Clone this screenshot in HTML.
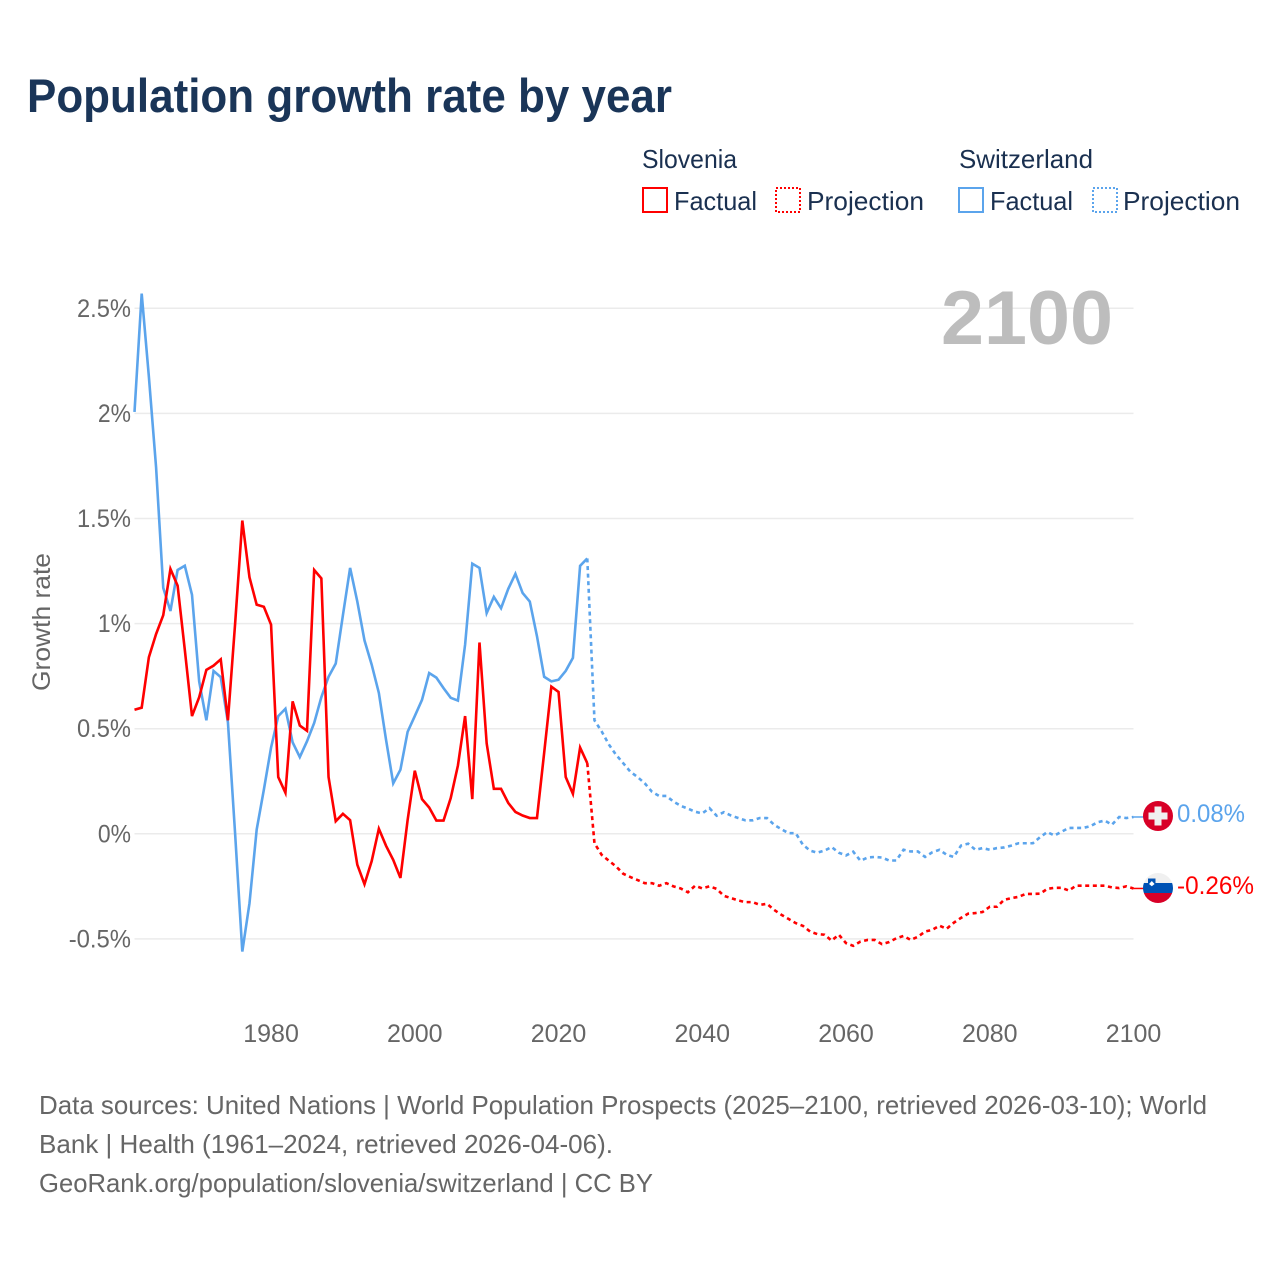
<!DOCTYPE html>
<html lang="en">
<head>
<meta charset="utf-8">
<title>Population growth rate by year</title>
<style>
html,body{margin:0;padding:0;background:#fff;width:1280px;height:1280px;overflow:hidden}
svg{display:block}
text{font-family:"Liberation Sans",sans-serif}
.leg{font-size:26px;fill:#1a3050}
.tick{font-size:25px;fill:#666}
.foot{font-size:26px;fill:#666}
</style>
</head>
<body>
<svg id="chart" width="1280" height="1280" viewBox="0 0 1280 1280" xmlns="http://www.w3.org/2000/svg">
  <text x="27" y="112" font-size="47" font-weight="700" fill="#1a3558" textLength="645" lengthAdjust="spacingAndGlyphs">Population growth rate by year</text>

  <g>
    <text class="leg" x="642" y="168" textLength="95" lengthAdjust="spacingAndGlyphs">Slovenia</text>
    <rect x="643" y="188" width="24" height="24" fill="none" stroke="#ff0000" stroke-width="2"/>
    <text class="leg" x="674" y="210" textLength="83" lengthAdjust="spacingAndGlyphs">Factual</text>
    <rect x="776" y="188" width="24" height="24" fill="none" stroke="#ff0000" stroke-width="2" stroke-dasharray="2 2"/>
    <text class="leg" x="807" y="210" textLength="117" lengthAdjust="spacingAndGlyphs">Projection</text>

    <text class="leg" x="959" y="168" textLength="134" lengthAdjust="spacingAndGlyphs">Switzerland</text>
    <rect x="959" y="188" width="24" height="24" fill="none" stroke="#5ba4ec" stroke-width="2"/>
    <text class="leg" x="990" y="210" textLength="83" lengthAdjust="spacingAndGlyphs">Factual</text>
    <rect x="1093" y="188" width="24" height="24" fill="none" stroke="#5ba4ec" stroke-width="2" stroke-dasharray="2 2"/>
    <text class="leg" x="1123" y="210" textLength="117" lengthAdjust="spacingAndGlyphs">Projection</text>
  </g>

  <g id="grid"></g>
  <g id="ytick-labels"></g>
  <g id="xtick-labels"></g>

  <text x="1113" y="344" font-size="76" font-weight="700" fill="#bdbdbd" text-anchor="end" textLength="172" lengthAdjust="spacingAndGlyphs">2100</text>
  <text transform="translate(50,622) rotate(-90)" font-size="25" fill="#666" text-anchor="middle" textLength="138" lengthAdjust="spacingAndGlyphs">Growth rate</text>

  <g id="series"></g>

  <g transform="translate(1158,816)">
    <circle r="15" fill="#d80027"/>
    <rect x="-9.5" y="-3.5" width="19" height="7" fill="#f0f0f0"/>
    <rect x="-3.5" y="-9.5" width="7" height="19" fill="#f0f0f0"/>
  </g>
  <g transform="translate(1158,888)">
    <clipPath id="slo-clip"><circle r="15"/></clipPath>
    <g clip-path="url(#slo-clip)">
      <rect x="-15" y="-15" width="30" height="10" fill="#f0f0f0"/>
      <rect x="-15" y="-5" width="30" height="10" fill="#0052b4"/>
      <rect x="-15" y="5" width="30" height="10" fill="#d80027"/>
    </g>
    <path d="M-10-9.5h7.5v6.5l-3.7 3-3.8-3z" fill="#0052b4"/>
    <path d="M-9-4l2.8-3 2.8 3-2.8 2.2z" fill="#fff"/>
  </g>
  <text id="label-swiss" x="1177" y="822" font-size="25" fill="#5ba4ec" textLength="68" lengthAdjust="spacingAndGlyphs">0.08%</text>
  <text id="label-slo" x="1177" y="894" font-size="25" fill="#ff0000" textLength="77" lengthAdjust="spacingAndGlyphs">-0.26%</text>

  <g>
    <text class="foot" x="39" y="1114" textLength="1168" lengthAdjust="spacingAndGlyphs">Data sources: United Nations | World Population Prospects (2025–2100, retrieved 2026-03-10); World</text>
    <text class="foot" x="39" y="1153" textLength="574" lengthAdjust="spacingAndGlyphs">Bank | Health (1961–2024, retrieved 2026-04-06).</text>
    <text class="foot" x="39" y="1192" textLength="614" lengthAdjust="spacingAndGlyphs">GeoRank.org/population/slovenia/switzerland | CC BY</text>
  </g>
</svg>

<script>
const factualStartYear = 1961;
const projectionStartYear = 2024;
const yTicks = [2.5, 2, 1.5, 1, 0.5, 0, -0.5];
const yTickLabels = ["2.5%", "2%", "1.5%", "1%", "0.5%", "0%", "-0.5%"];
const xTicks = [1980, 2000, 2020, 2040, 2060, 2080, 2100];

const sloveniaFactual = [
  0.59,0.60,0.84,0.95,1.04,1.26,1.18,0.875,0.56,0.65,
  0.78,0.80,0.83,0.54,1.00,1.49,1.22,1.09,1.08,0.995,
  0.27,0.195,0.63,0.515,0.49,1.255,1.215,0.27,0.06,0.095,
  0.065,-0.147,-0.24,-0.13,0.024,-0.057,-0.124,-0.21,0.065,0.30,
  0.165,0.125,0.063,0.063,0.17,0.325,0.56,0.165,0.91,0.43,
  0.214,0.214,0.147,0.104,0.087,0.075,0.075,0.385,0.70,0.675,
  0.27,0.19,0.41,0.336
];
const switzerlandFactual = [
  2.007,2.57,2.175,1.745,1.17,1.06,1.255,1.275,1.137,0.725,
  0.54,0.775,0.745,0.53,0.0,-0.56,-0.33,0.02,0.21,0.41,
  0.56,0.595,0.435,0.365,0.44,0.527,0.65,0.747,0.81,1.04,
  1.265,1.105,0.92,0.805,0.67,0.447,0.24,0.305,0.485,0.56,
  0.637,0.765,0.743,0.693,0.647,0.634,0.90,1.285,1.265,1.05,
  1.127,1.073,1.165,1.237,1.146,1.105,0.94,0.747,0.725,0.733,
  0.775,0.837,1.275,1.31
];
const sloveniaProjection = [
  0.336,-0.045,-0.10,-0.128,-0.155,-0.19,-0.206,-0.22,-0.235,-0.235,
  -0.247,-0.235,-0.25,-0.26,-0.278,-0.247,-0.26,-0.25,-0.262,-0.295,
  -0.306,-0.317,-0.325,-0.325,-0.338,-0.333,-0.362,-0.385,-0.405,-0.425,
  -0.438,-0.465,-0.477,-0.48,-0.508,-0.48,-0.52,-0.533,-0.513,-0.505,
  -0.505,-0.525,-0.515,-0.497,-0.486,-0.505,-0.49,-0.465,-0.457,-0.437,
  -0.452,-0.423,-0.40,-0.38,-0.377,-0.372,-0.347,-0.347,-0.314,-0.306,
  -0.30,-0.286,-0.286,-0.285,-0.262,-0.257,-0.257,-0.27,-0.247,-0.247,
  -0.247,-0.247,-0.247,-0.255,-0.258,-0.25,-0.26
];
const switzerlandProjection = [
  1.31,0.54,0.487,0.425,0.376,0.336,0.295,0.27,0.24,0.20,
  0.18,0.18,0.153,0.133,0.12,0.105,0.097,0.122,0.086,0.103,
  0.087,0.075,0.064,0.064,0.075,0.075,0.043,0.022,0.003,0.003,
  -0.052,-0.08,-0.09,-0.08,-0.063,-0.09,-0.103,-0.085,-0.128,-0.113,
  -0.11,-0.113,-0.127,-0.127,-0.076,-0.084,-0.084,-0.11,-0.088,-0.076,
  -0.10,-0.11,-0.056,-0.047,-0.076,-0.068,-0.076,-0.068,-0.065,-0.056,
  -0.045,-0.045,-0.045,-0.016,0.008,-0.008,0.01,0.028,0.028,0.028,
  0.036,0.055,0.063,0.043,0.08,0.075,0.08
];

const NS = "http://www.w3.org/2000/svg";
const xScale = year => 134.5 + (year - 1961) * (1133.5 - 134.5) / (2100 - 1961);
const yScale = value => 833.8 - value * 210.2;

function pointsFor(values, startYear) {
  return values.map((v, i) => xScale(startYear + i).toFixed(2) + "," + yScale(v).toFixed(2)).join(" ");
}

const gridGroup = document.getElementById("grid");
const yLabelGroup = document.getElementById("ytick-labels");
yTicks.forEach((tick, i) => {
  const line = document.createElementNS(NS, "line");
  
  
  line.setAttribute("x1", xScale(1961));
  line.setAttribute("x2", xScale(2100));
  line.setAttribute("y1", yScale(tick));
  line.setAttribute("y2", yScale(tick));
  line.setAttribute("stroke", "#ebebeb");
  line.setAttribute("stroke-width", "1.5");
  gridGroup.appendChild(line);

  const label = document.createElementNS(NS, "text");
  
  
  label.setAttribute("class", "tick");
  label.setAttribute("x", 131);
  label.setAttribute("y", yScale(tick) + 8.5);
  label.setAttribute("text-anchor", "end");
  label.textContent = yTickLabels[i];
  yLabelGroup.appendChild(label);
  label.setAttribute("textLength", (label.getComputedTextLength() - 3).toFixed(1));
  label.setAttribute("lengthAdjust", "spacingAndGlyphs");
});

const xLabelGroup = document.getElementById("xtick-labels");
xTicks.forEach(tick => {
  const label = document.createElementNS(NS, "text");
  
  
  label.setAttribute("class", "tick");
  label.setAttribute("x", xScale(tick));
  label.setAttribute("y", 1042);
  label.setAttribute("text-anchor", "middle");
  label.textContent = tick;
  xLabelGroup.appendChild(label);
});

const seriesGroup = document.getElementById("series");

function drawLine(values, startYear, colour, dashed) {
  const line = document.createElementNS(NS, "polyline");
  line.setAttribute("points", pointsFor(values, startYear));
  line.setAttribute("fill", "none");
  line.setAttribute("stroke", colour);
  line.setAttribute("stroke-width", "2.6");
  line.setAttribute("stroke-linejoin", "miter");
  if (dashed) line.setAttribute("stroke-dasharray", "4 3.6");
  seriesGroup.appendChild(line);
  return line;
}

function drawConnector(values, colour, flagX) {
  const line = document.createElementNS(NS, "line");
  const last = values[values.length - 1];
  line.setAttribute("x1", xScale(2100));
  line.setAttribute("x2", flagX);
  line.setAttribute("y1", yScale(last));
  line.setAttribute("y2", yScale(last));
  line.setAttribute("stroke", colour);
  line.setAttribute("stroke-width", "1.5");
  seriesGroup.appendChild(line);
  return line;
}

const swissProjectionLine = drawLine(switzerlandProjection, projectionStartYear, "#5ba4ec", true);



const swissFactualLine = drawLine(switzerlandFactual, factualStartYear, "#5ba4ec", false);



const sloProjectionLine = drawLine(sloveniaProjection, projectionStartYear, "#ff0000", true);



const sloFactualLine = drawLine(sloveniaFactual, factualStartYear, "#ff0000", false);



const swissConnector = drawConnector(switzerlandProjection, "#5ba4ec", 1144);



const sloConnector = drawConnector(sloveniaProjection, "#ff0000", 1144);


</script>
</body>
</html>
